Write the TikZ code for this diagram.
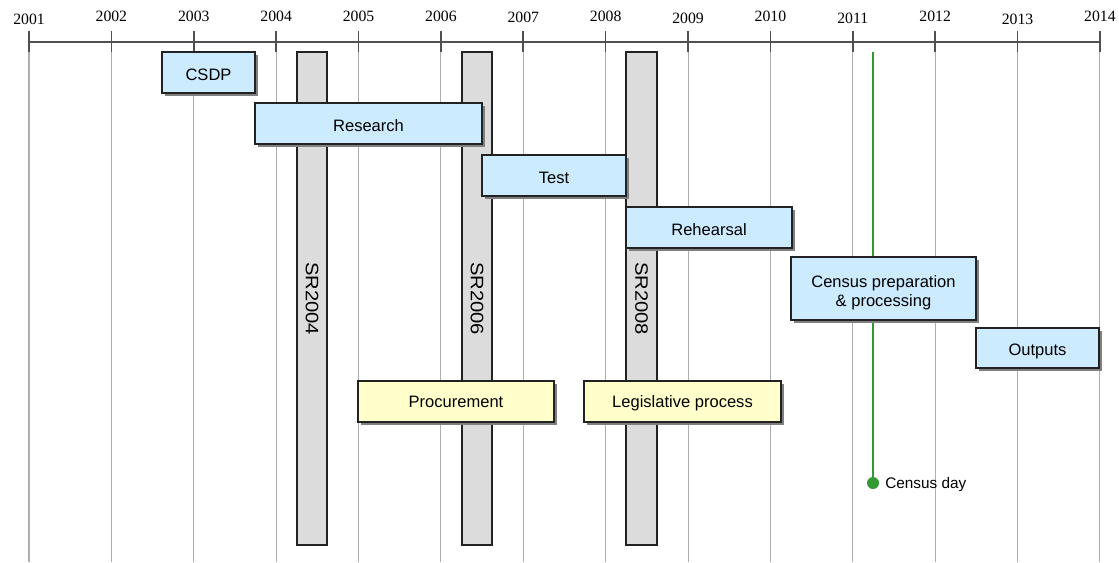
\documentclass[tikz,border=0pt]{standalone}
\usepackage{fontspec}
\setmainfont{Liberation Serif}
\newfontfamily\arialf{Liberation Sans}
\usetikzlibrary{shadows}
\definecolor{boxblue}{HTML}{CCEBFF}
\definecolor{boxyellow}{HTML}{FFFFCC}
\definecolor{bargray}{HTML}{DCDCDC}
\definecolor{gridgray}{HTML}{AFAFAF}
\definecolor{axisgray}{HTML}{505050}
\definecolor{censusgreen}{HTML}{339933}
\definecolor{edgedark}{HTML}{222222}
\tikzset{
  shbox/.style={draw=edgedark, line width=1pt, inner sep=0pt, align=center,
     font=\arialf\fontsize{12.4}{14.6}\selectfont,
     drop shadow={shadow xshift=2.4pt, shadow yshift=-2.4pt, fill=black!50, opacity=1}},
  blueline/.style={text height=13.2pt, text depth=1.3pt},
  yellowline/.style={text height=10pt, text depth=1.1pt},
  bluebox/.style={shbox, fill=boxblue},
  yellowbox/.style={shbox, fill=boxyellow},
  srbar/.style={draw=edgedark, line width=1pt, fill=bargray, inner sep=0pt, rotate=-90,
     minimum width=369.75pt, font=\arialf\fontsize{13.5}{15}\selectfont},
  yearlbl/.style={font=\fontsize{11.8}{13}\selectfont, inner sep=0pt},
  grid line/.style={draw=gridgray, line width=0.8pt},
  tickmark/.style={draw=axisgray, line width=1.2pt},
}
\begin{document}
\begin{tikzpicture}[x=0.75pt, y=-0.75pt]
\useasboundingbox (0,0) rectangle (1119,562);
% years
\foreach \yr/\ly [count=\i from 0] in {2001/19,2002/16,2003/16,2004/16,2005/16,2006/16,2007/17,2008/16,2009/18,2010/16,2011/18,2012/16,2013/19,2014/16} {
  \pgfmathsetmacro{\xx}{29+\i*82.38}
  \coordinate (g\yr) at (\xx,52);
  \coordinate (gb\yr) at (\xx,562);
  \coordinate (t\yr) at (\xx,31);
  \node[yearlbl] (y\yr) at (\xx,\ly) {\yr};
  \draw[grid line] (g\yr) -- (gb\yr);
  \draw[tickmark] (t\yr) -- (g\yr);
}
\draw[draw=axisgray, line width=1.6pt] (29,42) coordinate (axL) -- (1100,42) coordinate (axR);
% census day line
\coordinate (cdtop) at (873,52);
\coordinate (cdpt) at (873,483);
\draw[censusgreen, line width=0.9pt] (cdtop) -- (cdpt);
% spending review bars
\node[srbar, minimum height=22.5pt] (sr04) at (312,298.5) {\scalebox{1.12}[1]{SR2004}};
\node[srbar, minimum height=22.5pt] (sr06) at (477,298.5) {\scalebox{1.12}[1]{SR2006}};
\node[srbar, minimum height=23.25pt] (sr08) at (641.5,298.5) {\scalebox{1.12}[1]{SR2008}};
% phases
\node[bluebox, blueline, minimum width=69.75pt, minimum height=30.75pt] (csdp) at (208.5,72.5) {CSDP};
\node[bluebox, blueline, minimum width=170.25pt, minimum height=30.75pt] (research) at (368.5,123.5) {Research};
\node[bluebox, blueline, minimum width=108pt, minimum height=30.75pt] (test) at (554,175.5) {Test};
\node[bluebox, blueline, minimum width=124.5pt, minimum height=30.75pt] (rehearsal) at (709,227.5) {Rehearsal};
\node[bluebox, minimum width=138.75pt, minimum height=47.25pt] (prep) at (883.5,288.5) {};
\node[inner sep=0pt, align=center, font=\arialf\fontsize{12.4}{14.6}\selectfont] (preptext) at ([yshift=-3pt]prep.center) {Census preparation\\\& processing};
\node[bluebox, blueline, minimum width=92.25pt, minimum height=30pt] (outputs) at (1037.5,348) {Outputs};
\node[yellowbox, yellowline, minimum width=147pt, minimum height=30.75pt] (procure) at (456,401.5) {Procurement};
\node[yellowbox, yellowline, minimum width=147.75pt, minimum height=30.75pt] (legis) at (682.5,401.5) {Legislative process};
% census day dot and label
\node[circle, fill=censusgreen, inner sep=0pt, minimum size=9pt] (cday) at (cdpt) {};
\node[anchor=west, inner sep=0pt, font=\arialf\fontsize{11.5}{13}\selectfont] (cdlbl) at (885,485) {Census day};
\end{tikzpicture}
\end{document}
